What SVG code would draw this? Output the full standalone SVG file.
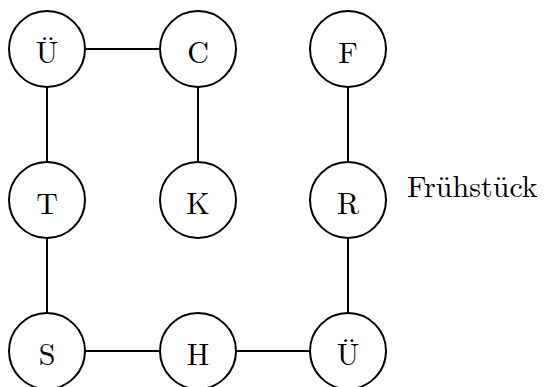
<svg xmlns="http://www.w3.org/2000/svg" width="547" height="387" viewBox="0 0 547 387">
<style>
.n circle{fill:#fff;stroke:#000;stroke-width:2}
.n text,.lbl{font-family:"Latin Modern Roman","Liberation Serif",serif;font-size:30px;fill:#000}
.n text{text-anchor:middle;dominant-baseline:central}
.e line{stroke:#000;stroke-width:2}
</style>
<rect width="547" height="387" fill="#fff"/>
<g class="e" id="edges">
<line x1="85" y1="49" x2="160" y2="49"/>
<line x1="47" y1="87" x2="47" y2="162"/>
<line x1="198" y1="87" x2="198" y2="162"/>
<line x1="348" y1="87" x2="348" y2="162"/>
<line x1="47" y1="238" x2="47" y2="313"/>
<line x1="348" y1="238" x2="348" y2="313"/>
<line x1="85" y1="351" x2="160" y2="351"/>
<line x1="236" y1="351" x2="310" y2="351"/>
</g>
<g class="n" id="n1"><circle cx="47" cy="49" r="38"/><text x="47" y="50">Ü</text></g>
<g class="n" id="n2"><circle cx="198" cy="49" r="38"/><text x="198" y="50">C</text></g>
<g class="n" id="n3"><circle cx="348" cy="49" r="38"/><text x="348" y="50">F</text></g>
<g class="n" id="n4"><circle cx="47" cy="200" r="38"/><text x="47" y="201">T</text></g>
<g class="n" id="n5"><circle cx="198" cy="200" r="38"/><text x="198" y="201">K</text></g>
<g class="n" id="n6"><circle cx="348" cy="200" r="38"/><text x="348" y="201">R</text></g>
<g class="n" id="n7"><circle cx="47" cy="351" r="38"/><text x="47" y="352">S</text></g>
<g class="n" id="n8"><circle cx="198" cy="351" r="38"/><text x="198" y="352">H</text></g>
<g class="n" id="n9"><circle cx="348" cy="351" r="38"/><text x="348" y="352">Ü</text></g>
<text class="lbl" id="label" x="407" y="197">Frühstück</text>
</svg>
